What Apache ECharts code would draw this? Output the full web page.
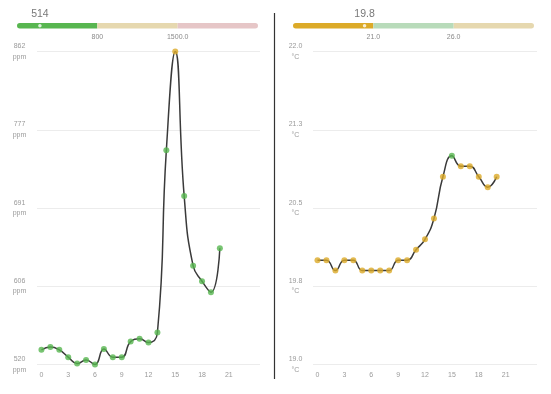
<!DOCTYPE html>
<html>
<head>
<meta charset="utf-8">
<script src="https://cdn.jsdelivr.net/npm/echarts@6/dist/echarts.min.js"></script>
<style>
html,body{margin:0;padding:0;background:#fff;}
#c{width:551px;height:394px;}
</style>
</head>
<body>
<div id="c"></div>
<script>
// ---- data ----
var hours = [0,1,2,3,4,5,6,7,8,9,10,11,12,13,14,15,16,17,18,19,20];
var co2 = [536,539,536,528,521,525,520,537,528,528,545,548,544,555,754,862,704,628,611,599,647];
var temp = [20.0,20.0,19.9,20.0,20.0,19.9,19.9,19.9,19.9,20.0,20.0,20.1,20.2,20.4,20.8,21.0,20.9,20.9,20.8,20.7,20.8];
var xTicks = [0,3,6,9,12,15,18,21];
var co2Unit = 'ppm';
var tempUnit = '°C';
var co2Current = 514;
var tempCurrent = 19.8;
var co2Thresholds = [800, 1500];
var co2ThresholdLabels = ['800', '1500.0'];
var tempThresholds = [21, 26];
var tempThresholdLabels = ['21.0', '26.0'];
var co2GaugeStops = [400, 800, 1500, 2200];
var tempGaugeStops = [10, 21, 26, 31];

// ---- styles ----
var GREEN = '#58b650', GOLD = '#dcaa28', RED = '#d9534f';
var PALE_GREEN = '#b8dbba', PALE_GOLD = '#e6d8af', PALE_RED = '#e6c6c7';
var FONT = '"Liberation Sans", Helvetica, Arial, sans-serif';
var co2SegColors = [GREEN, PALE_GOLD, PALE_RED];
var tempSegColors = [GOLD, PALE_GREEN, PALE_GOLD];

function pairs(xs, ys){ return xs.map(function(x,i){ return [x, ys[i]]; }); }
function gaugePos(v, stops){
  for (var i = 0; i < stops.length - 1; i++) {
    if (v <= stops[i+1] || i === stops.length - 2) {
      return i + (v - stops[i]) / (stops[i+1] - stops[i]);
    }
  }
}

var chart = echarts.init(document.getElementById('c'), null, {renderer: 'canvas'});

function mainX(idx){
  return {
    type: 'value', gridIndex: idx, min: -0.5, max: 24.5,
    axisLine: {show: false}, axisTick: {show: false}, splitLine: {show: false},
    axisLabel: {customValues: xTicks, color: '#9a9a9a', fontSize: 7, fontFamily: FONT, margin: 7}
  };
}
function mainY(idx, min, max, interval, fmt){
  return {
    type: 'value', gridIndex: idx, min: min, max: max, interval: interval,
    axisLine: {show: false}, axisTick: {show: false},
    splitLine: {lineStyle: {color: '#ececec', width: 1}},
    axisLabel: {formatter: fmt, color: '#9a9a9a', fontSize: 7, fontFamily: FONT,
      align: 'center', margin: 17.5, lineHeight: 10.5}
  };
}
function gaugeX(idx, labels){
  return {
    type: 'value', gridIndex: idx, min: 0, max: 3, interval: 1,
    axisLine: {show: false}, axisTick: {show: false}, splitLine: {show: false},
    axisLabel: {color: '#8a8a8a', fontSize: 7, fontFamily: FONT, margin: 5,
      formatter: function(v){ return (v === 1 || v === 2) ? labels[v-1] : ''; }}
  };
}
function gaugeY(idx){
  return {type: 'category', gridIndex: idx, data: ['g'], show: false};
}
function segSeries(xi, yi, colors){
  return colors.map(function(c, i){
    var r = i === 0 ? [3,0,0,3] : (i === colors.length - 1 ? [0,3,3,0] : 0);
    return {
      type: 'bar', xAxisIndex: xi, yAxisIndex: yi, stack: 'g' + xi, barWidth: 5.5,
      data: [1], silent: true,
      itemStyle: {color: c, borderRadius: r}
    };
  });
}

var series = [];
// main lines
series.push({type: 'line', xAxisIndex: 0, yAxisIndex: 0, data: pairs(hours, co2), smooth: true,
  showSymbol: false, lineStyle: {color: '#3a3a3a', width: 1.5}, z: 2});
series.push({type: 'scatter', xAxisIndex: 0, yAxisIndex: 0, data: pairs(hours, co2), symbolSize: 6, z: 3});
series.push({type: 'line', xAxisIndex: 1, yAxisIndex: 1, data: pairs(hours, temp), smooth: true,
  showSymbol: false, lineStyle: {color: '#3a3a3a', width: 1.5}, z: 2});
series.push({type: 'scatter', xAxisIndex: 1, yAxisIndex: 1, data: pairs(hours, temp), symbolSize: 6, z: 3});
// gauges
series = series.concat(segSeries(2, 2, co2SegColors));
series = series.concat(segSeries(3, 3, tempSegColors));
series.push({type: 'scatter', xAxisIndex: 2, yAxisIndex: 2, symbolSize: 3.5, z: 5,
  data: [[gaugePos(co2Current, co2GaugeStops), 0]], itemStyle: {color: '#fff'},
  label: {show: true, position: 'top', distance: 4, formatter: String(co2Current),
    color: '#555', fontSize: 10.5, fontFamily: FONT}});
series.push({type: 'scatter', xAxisIndex: 3, yAxisIndex: 3, symbolSize: 3.5, z: 5,
  data: [[gaugePos(tempCurrent, tempGaugeStops), 0]], itemStyle: {color: '#fff'},
  label: {show: true, position: 'top', distance: 4, formatter: tempCurrent.toFixed(1),
    color: '#555', fontSize: 10.5, fontFamily: FONT}});

chart.setOption({
  animation: false,
  textStyle: {fontFamily: FONT},
  grid: [
    {left: 37, width: 223, top: 51.5, height: 313},
    {left: 313, width: 224, top: 51.5, height: 313},
    {left: 17, width: 241, top: 23, height: 5.5},
    {left: 293, width: 241, top: 23, height: 5.5}
  ],
  xAxis: [mainX(0), mainX(1), gaugeX(2, co2ThresholdLabels), gaugeX(3, tempThresholdLabels)],
  yAxis: [
    mainY(0, 520, 862, 85.5, function(v){ return Math.round(v) + '\n' + co2Unit; }),
    mainY(1, 19, 22, 0.75, function(v){ return v.toFixed(1) + '\n' + tempUnit; }),
    gaugeY(2), gaugeY(3)
  ],
  visualMap: [
    {type: 'piecewise', show: false, seriesIndex: 1, dimension: 1,
      pieces: [{lt: co2Thresholds[0], color: GREEN},
               {gte: co2Thresholds[0], lte: co2Thresholds[1], color: GOLD},
               {gt: co2Thresholds[1], color: RED}]},
    {type: 'piecewise', show: false, seriesIndex: 3, dimension: 1,
      pieces: [{lt: tempThresholds[0], color: GOLD},
               {gte: tempThresholds[0], lte: tempThresholds[1], color: GREEN},
               {gt: tempThresholds[1], color: GOLD}]}
  ],
  graphic: [{type: 'line', shape: {x1: 274.5, y1: 13, x2: 274.5, y2: 379},
    style: {stroke: '#333', lineWidth: 1.2}, silent: true}],
  series: series
});
</script>
</body>
</html>
